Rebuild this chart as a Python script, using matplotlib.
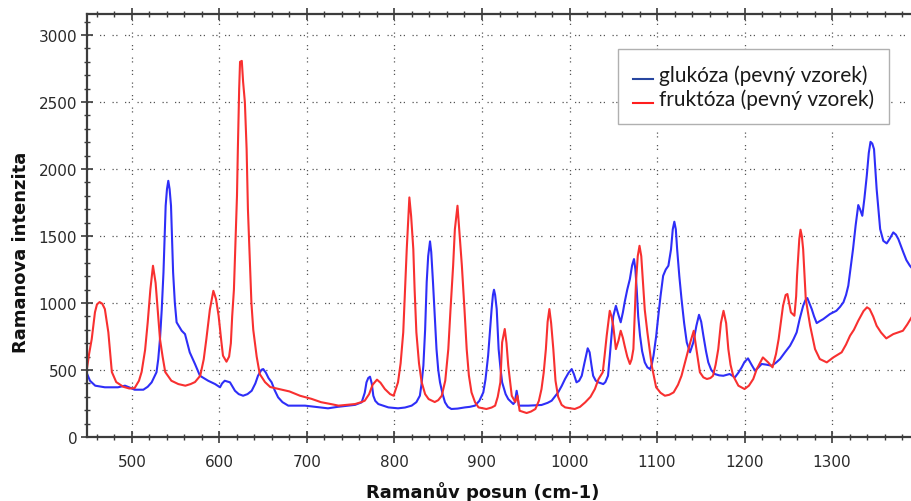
import matplotlib
matplotlib.use("Agg")
import matplotlib.pyplot as plt
from matplotlib.ticker import MultipleLocator
from matplotlib.legend_handler import HandlerLine2D

# Raman spectrum of solid glucose: (shift in cm-1, intensity)
glukoza_x = [448, 452, 458, 469, 484, 492, 497, 503, 513, 518, 522.5, 528, 530, 532, 534, 536,
             538.5, 540, 541.5, 543, 544.6, 547, 549, 551, 556.8, 560.6, 566, 572, 577.7, 587,
             595, 600.6, 603, 606, 612, 617.7, 622, 627, 632, 636.8, 641, 644, 648, 650, 653,
             656, 659.6, 663, 667, 672, 678.6, 690, 697.7, 710, 724, 735, 747, 755, 762.5, 766,
             768, 770, 772, 774, 775.8, 778, 781.5, 793, 804, 812, 819.6, 825, 829, 831, 833,
             835, 836.8, 838.5, 840.6, 842, 844, 846, 848, 850, 852, 855, 857.7, 861, 865, 872,
             880.6, 886, 892, 897, 901.5, 904, 907, 909, 911, 912.5, 913.7, 915, 916.8, 918,
             919, 921, 923, 927, 930, 935.8, 937.5, 939.6, 941, 942, 953, 968, 975, 979.6, 983,
             987, 991, 994.9, 999, 1002.5, 1005, 1008, 1011, 1014, 1017, 1020.8, 1023, 1025,
             1027, 1030, 1033, 1038.6, 1041, 1044, 1046, 1048, 1050, 1053, 1056, 1058.5, 1061,
             1063, 1066, 1069, 1071.5, 1073.7, 1075.3, 1076.8, 1078.5, 1080.6, 1083, 1086,
             1089, 1092, 1094, 1096, 1099, 1101.5, 1104, 1107, 1110, 1113, 1116, 1118, 1119.8,
             1121.5, 1123, 1125.5, 1128, 1131, 1134, 1137.7, 1141.5, 1145, 1148, 1150.5, 1153,
             1156, 1158.6, 1162, 1166, 1171, 1175.8, 1183, 1189, 1193, 1196.8, 1200, 1204,
             1208, 1212, 1216, 1219.6, 1225, 1231, 1236, 1240.6, 1246, 1252, 1256, 1259.6,
             1263, 1267, 1269.5, 1271.8, 1274, 1276.8, 1279.5, 1282.5, 1286, 1290, 1297.7,
             1305, 1309, 1313, 1316, 1318.6, 1321, 1324, 1327, 1330, 1332, 1334.6, 1337,
             1339.7, 1342, 1344, 1346, 1348, 1349.5, 1351, 1353, 1355, 1358.6, 1362.5, 1366,
             1370, 1373, 1375.8, 1381.5, 1385, 1389, 1392]
glukoza_y = [483, 420, 383, 371, 371, 383, 370, 353, 353, 375, 408, 483, 580, 731, 950, 1229,
             1726, 1850, 1912, 1850, 1726, 1229, 1000, 856, 793, 768, 632, 545, 457, 420,
             395, 371, 400, 420, 408, 345, 320, 308, 320, 345, 400, 457, 502, 507, 480,
             440, 408, 350, 296, 260, 234, 234, 234, 225, 214, 225, 234, 240, 259, 330,
             408, 440, 450, 400, 308, 270, 246, 221, 214, 220, 234, 260, 308, 400, 532,
             800, 1156, 1350, 1460, 1380, 1154, 900, 656, 500, 408, 320, 259, 225, 209, 212,
             221, 225, 234, 270, 333, 430, 607, 780, 955, 1060, 1099, 1060, 955, 800,
             656, 520, 408, 320, 283, 246, 260, 345, 290, 234, 234, 239, 255, 271, 300,
             333, 380, 433, 480, 507, 470, 408, 420, 457, 550, 662, 632, 540,
             457, 420, 408, 395, 410, 457, 600, 756, 900, 979, 910, 856, 930,
             1005, 1100, 1179, 1280, 1328, 1250, 1104, 900, 756, 640, 557,
             520, 507, 540, 607, 750, 905, 1050, 1203, 1250, 1278, 1400, 1550, 1607,
             1550, 1402, 1200, 1030, 850, 706, 632, 706, 830, 912, 860, 756,
             640, 557, 500, 470, 460, 457, 470, 445, 480, 520, 560, 587,
             540, 495, 520, 545, 540, 532, 555, 582, 630, 681, 730, 781,
             880, 979, 1020, 1037, 1000, 955, 900, 850, 865, 880, 918,
             942, 970, 1005, 1060, 1129, 1250, 1402, 1580, 1731, 1700, 1651, 1780,
             1949, 2120, 2203, 2190, 2148, 2000, 1850, 1700, 1552, 1464, 1445, 1480,
             1527, 1510, 1477, 1378, 1320, 1278, 1255]

# Raman spectrum of solid fructose: (shift in cm-1, intensity)
fruktoza_x = [448, 451, 454, 457.7, 460, 463, 466, 469, 473, 477, 482, 490, 497, 503, 508, 511,
              515, 518, 521, 524, 527, 530, 532, 535, 538, 545, 553, 561, 567, 572, 578, 582,
              585, 589, 593, 596, 599, 602, 604, 608, 611, 613, 614.5, 616.5, 618, 620, 621,
              622.5, 623.5, 625.5, 627, 629, 631, 632.5, 634.8, 636.5, 638.6, 642.5, 646, 652,
              658, 670, 680, 692, 705, 716, 728, 736, 745,
              755, 762, 766, 771, 775, 780, 784, 789, 795, 799, 804, 807, 810, 812, 814, 817,
              819, 821.5, 823, 825, 828, 831, 835, 839, 846, 850, 854, 858, 861.5, 864, 867,
              869, 872, 874, 877, 880, 882.5, 885, 888, 892, 896, 905, 911, 915, 918, 921,
              923, 926, 928, 930, 934, 938, 940.5, 943, 951, 956, 961, 965, 968, 970.5, 973,
              975, 977, 979, 981.5, 984, 987, 991, 995, 1006, 1012, 1018, 1024, 1029, 1033,
              1038, 1040, 1042.5, 1046, 1048, 1050, 1053, 1056, 1058.5, 1061, 1063, 1066,
              1069, 1071, 1073, 1076, 1078, 1080, 1082, 1084, 1086, 1089, 1094, 1099, 1104,
              1109, 1114, 1119, 1124, 1128, 1134, 1138, 1142, 1145, 1149, 1153, 1157, 1161,
              1164, 1167, 1170, 1173, 1176, 1179, 1181.5, 1184, 1187, 1193, 1200, 1205, 1210,
              1214, 1221, 1227, 1232, 1236, 1239, 1242, 1244, 1247, 1249, 1251, 1253, 1257,
              1259, 1260, 1262.6, 1264, 1265.5, 1267, 1270, 1275, 1280.6, 1286, 1294, 1301.5,
              1311, 1316, 1320.6, 1325, 1330, 1336, 1340, 1343, 1347, 1351, 1356, 1362, 1370,
              1381, 1386, 1392]
fruktoza_y = [485, 620, 731, 931, 990, 1007, 995, 955, 781, 485, 410, 375, 362, 365, 420, 485,
              650, 857, 1100, 1278, 1150, 900, 731, 600, 485, 420, 395, 383, 395, 410, 457, 580,
              731, 950, 1091, 1030, 905, 720, 607, 562, 600, 700, 900, 1100, 1400, 1800, 2150,
              2600, 2800, 2807, 2650, 2500, 2150, 1700, 1300, 1000, 800, 600, 470, 410,
              373, 355, 340, 308, 285, 260, 245, 234, 240,
              246, 260, 271, 320, 390, 428, 405, 358, 320, 308, 408, 550, 781, 1100, 1402, 1788,
              1650, 1402, 1100, 781, 550, 410, 320, 283, 261, 275, 308, 420, 656, 950, 1278,
              1550, 1726, 1550, 1278, 950, 656, 460, 333, 260, 221, 209, 220, 234, 300, 408,
              706, 806, 700, 532, 308, 261, 308, 196, 179, 190, 209, 270, 358, 480, 656,
              860, 955, 850, 656, 420, 300, 240, 221, 209, 225, 259, 300, 358, 430,
              483, 600, 756, 942, 900, 830, 656, 720, 793, 740, 681, 600,
              545, 580, 656, 1156, 1350, 1427, 1350, 1156, 950, 781, 532, 371, 330,
              308, 315, 333, 390, 457, 607, 706, 793, 656, 483, 445, 433, 440,
              457, 540, 656, 850, 942, 850, 656, 540, 457, 383, 358, 383, 433,
              507, 594, 557, 520, 620, 731, 880, 979, 1060, 1067, 1000, 930, 905,
              1050, 1203, 1477, 1547, 1500, 1402, 1030, 830, 656, 582, 557, 594,
              632, 690, 756, 800, 868, 940, 968, 955, 900, 830, 780, 736, 768,
              793, 840, 905]

series_labels = ["glukóza (pevný vzorek)", "fruktóza (pevný vzorek)"]
x_title = "Ramanův posun (cm-1)"
y_title = "Ramanova intenzita"

SPINE = "#3c3c3c"


class BaselineLine(HandlerLine2D):
    """Legend handle drawn low, like an underline beside the label."""
    def create_artists(self, legend, orig_handle, xdescent, ydescent, width,
                       height, fontsize, trans):
        artists = super().create_artists(legend, orig_handle, xdescent, ydescent,
                                         width, height, fontsize, trans)
        for a in artists:
            yd = a.get_ydata()
            a.set_ydata([v - 0.40 * height for v in yd])
        return artists


fig = plt.figure(figsize=(9.12, 5.02), dpi=100)
ax = fig.add_axes([87 / 912, 64 / 502, 825 / 912, 423 / 502])

ax.plot(glukoza_x, glukoza_y, color="#2e2ef8", lw=1.5, label=series_labels[0])
ax.plot(fruktoza_x, fruktoza_y, color="#f83030", lw=1.5, label=series_labels[1])

ax.set_xlim(448.6, 1391.4)
ax.set_ylim(0, 3157)

ax.xaxis.set_major_locator(MultipleLocator(100))
ax.xaxis.set_minor_locator(MultipleLocator(20))
ax.yaxis.set_major_locator(MultipleLocator(500))
ax.yaxis.set_minor_locator(MultipleLocator(100))

ax.grid(True, which="major", color="#555555", linestyle=(0, (1, 2, 1, 6)), lw=0.9)

for side in ("left", "bottom", "top"):
    ax.spines[side].set_color(SPINE)
    ax.spines[side].set_linewidth(1.6)
ax.spines["right"].set_visible(False)

ax.tick_params(which="major", direction="inout", length=8, width=1.2, color=SPINE,
               top=True, labelsize=11, labelcolor="#2a2a2a", pad=3)
ax.tick_params(which="minor", direction="inout", length=4, width=1.0, color=SPINE,
               top=True)
ax.tick_params(axis="x", which="major", pad=8)

fig.text(483 / 912, 1 - 492 / 502, x_title, ha="center", va="center",
         fontsize=13, fontweight="bold", color="#111111")
fig.text(21 / 912, 1 - 252 / 502, y_title, ha="center", va="center", rotation=90,
         fontsize=13, fontweight="bold", color="#111111")

leg = ax.legend(loc="upper left", bbox_to_anchor=(0.6436, 0.7447, 0.3285, 0.1726),
                mode="expand", frameon=True, fancybox=False, framealpha=1,
                edgecolor="#b0b0b0", prop={"family": "Lato", "size": 15},
                handlelength=0.95, handletextpad=0.3, labelspacing=0.18,
                borderpad=0.72, borderaxespad=0,
                handler_map={plt.Line2D: BaselineLine()})
leg.get_frame().set_linewidth(1.0)
for t in leg.get_texts():
    t.set_color("#1a1a1a")
leg_lines = leg.get_lines()
leg_lines[0].set_color("#2846a0")
leg_lines[1].set_color("#ff1e1e")

fig.savefig("out.png", dpi=100)
